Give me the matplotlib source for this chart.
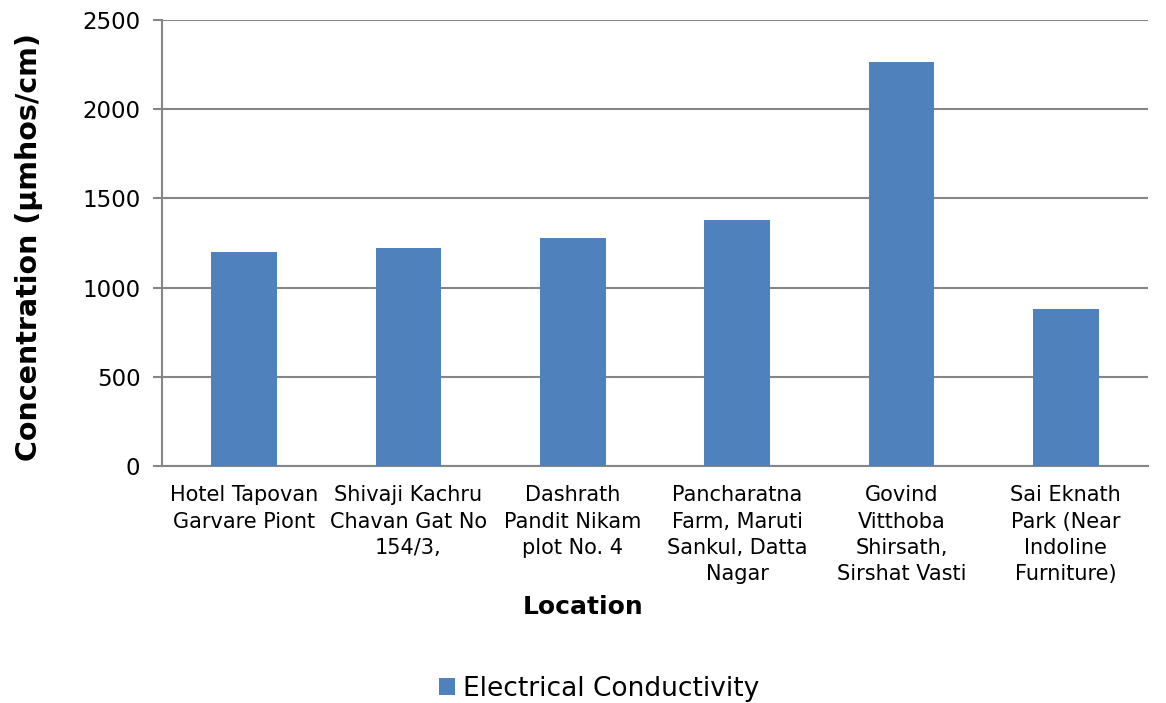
import matplotlib.pyplot as plt

locations = [
    "Hotel Tapovan\nGarvare Piont",
    "Shivaji Kachru\nChavan Gat No\n154/3,",
    "Dashrath\nPandit Nikam\nplot No. 4",
    "Pancharatna\nFarm, Maruti\nSankul, Datta\nNagar",
    "Govind\nVitthoba\nShirsath,\nSirshat Vasti",
    "Sai Eknath\nPark (Near\nIndoline\nFurniture)",
]
conductivity = [1198, 1222, 1278, 1379, 2266, 880]
yticks = [0, 500, 1000, 1500, 2000, 2500]

plt.rcParams['font.family'] = ['DejaVu Sans']
grey = '#868686'

fig = plt.figure(figsize=(11.66, 7.03), dpi=100)
ax = fig.add_axes([0.1389, 0.3371, 0.8457, 0.6345])

x = range(len(locations))
ax.bar(x, conductivity, width=0.4, color='#4F81BD', label='Electrical Conductivity', zorder=3)

ax.set_xlim(-0.5, len(locations) - 0.5)
ax.set_ylim(0, 2500)
ax.set_yticks(yticks)
ax.set_yticklabels([str(v) for v in yticks], fontsize=16.5)
ax.set_xticks(list(x))
ax.set_xticklabels(locations, fontsize=15, linespacing=1.38, va='top')

ax.yaxis.grid(True, color=grey, linewidth=1.5, zorder=0)
for side in ['top', 'right']:
    ax.spines[side].set_visible(False)
for side in ['left', 'bottom']:
    ax.spines[side].set_color(grey)
    ax.spines[side].set_linewidth(1.5)
ax.tick_params(axis='y', length=6.5, width=1.5, color=grey, pad=9)
ax.tick_params(axis='x', length=0, pad=14)

ax.set_ylabel("Concentration (µmhos/cm)", fontsize=20.5, fontweight='bold')
ax.yaxis.set_label_coords(-0.121, 0.49)
ax.set_xlabel("Location", fontsize=18, fontweight='bold')
ax.xaxis.set_label_coords(0.427, -0.29)

ax.legend(loc='center', bbox_to_anchor=(0.514, 0.02), bbox_transform=fig.transFigure,
          frameon=False, fontsize=19, handlelength=0.6, handleheight=0.6,
          handletextpad=0.3)

fig.savefig('out.png', dpi=100)
